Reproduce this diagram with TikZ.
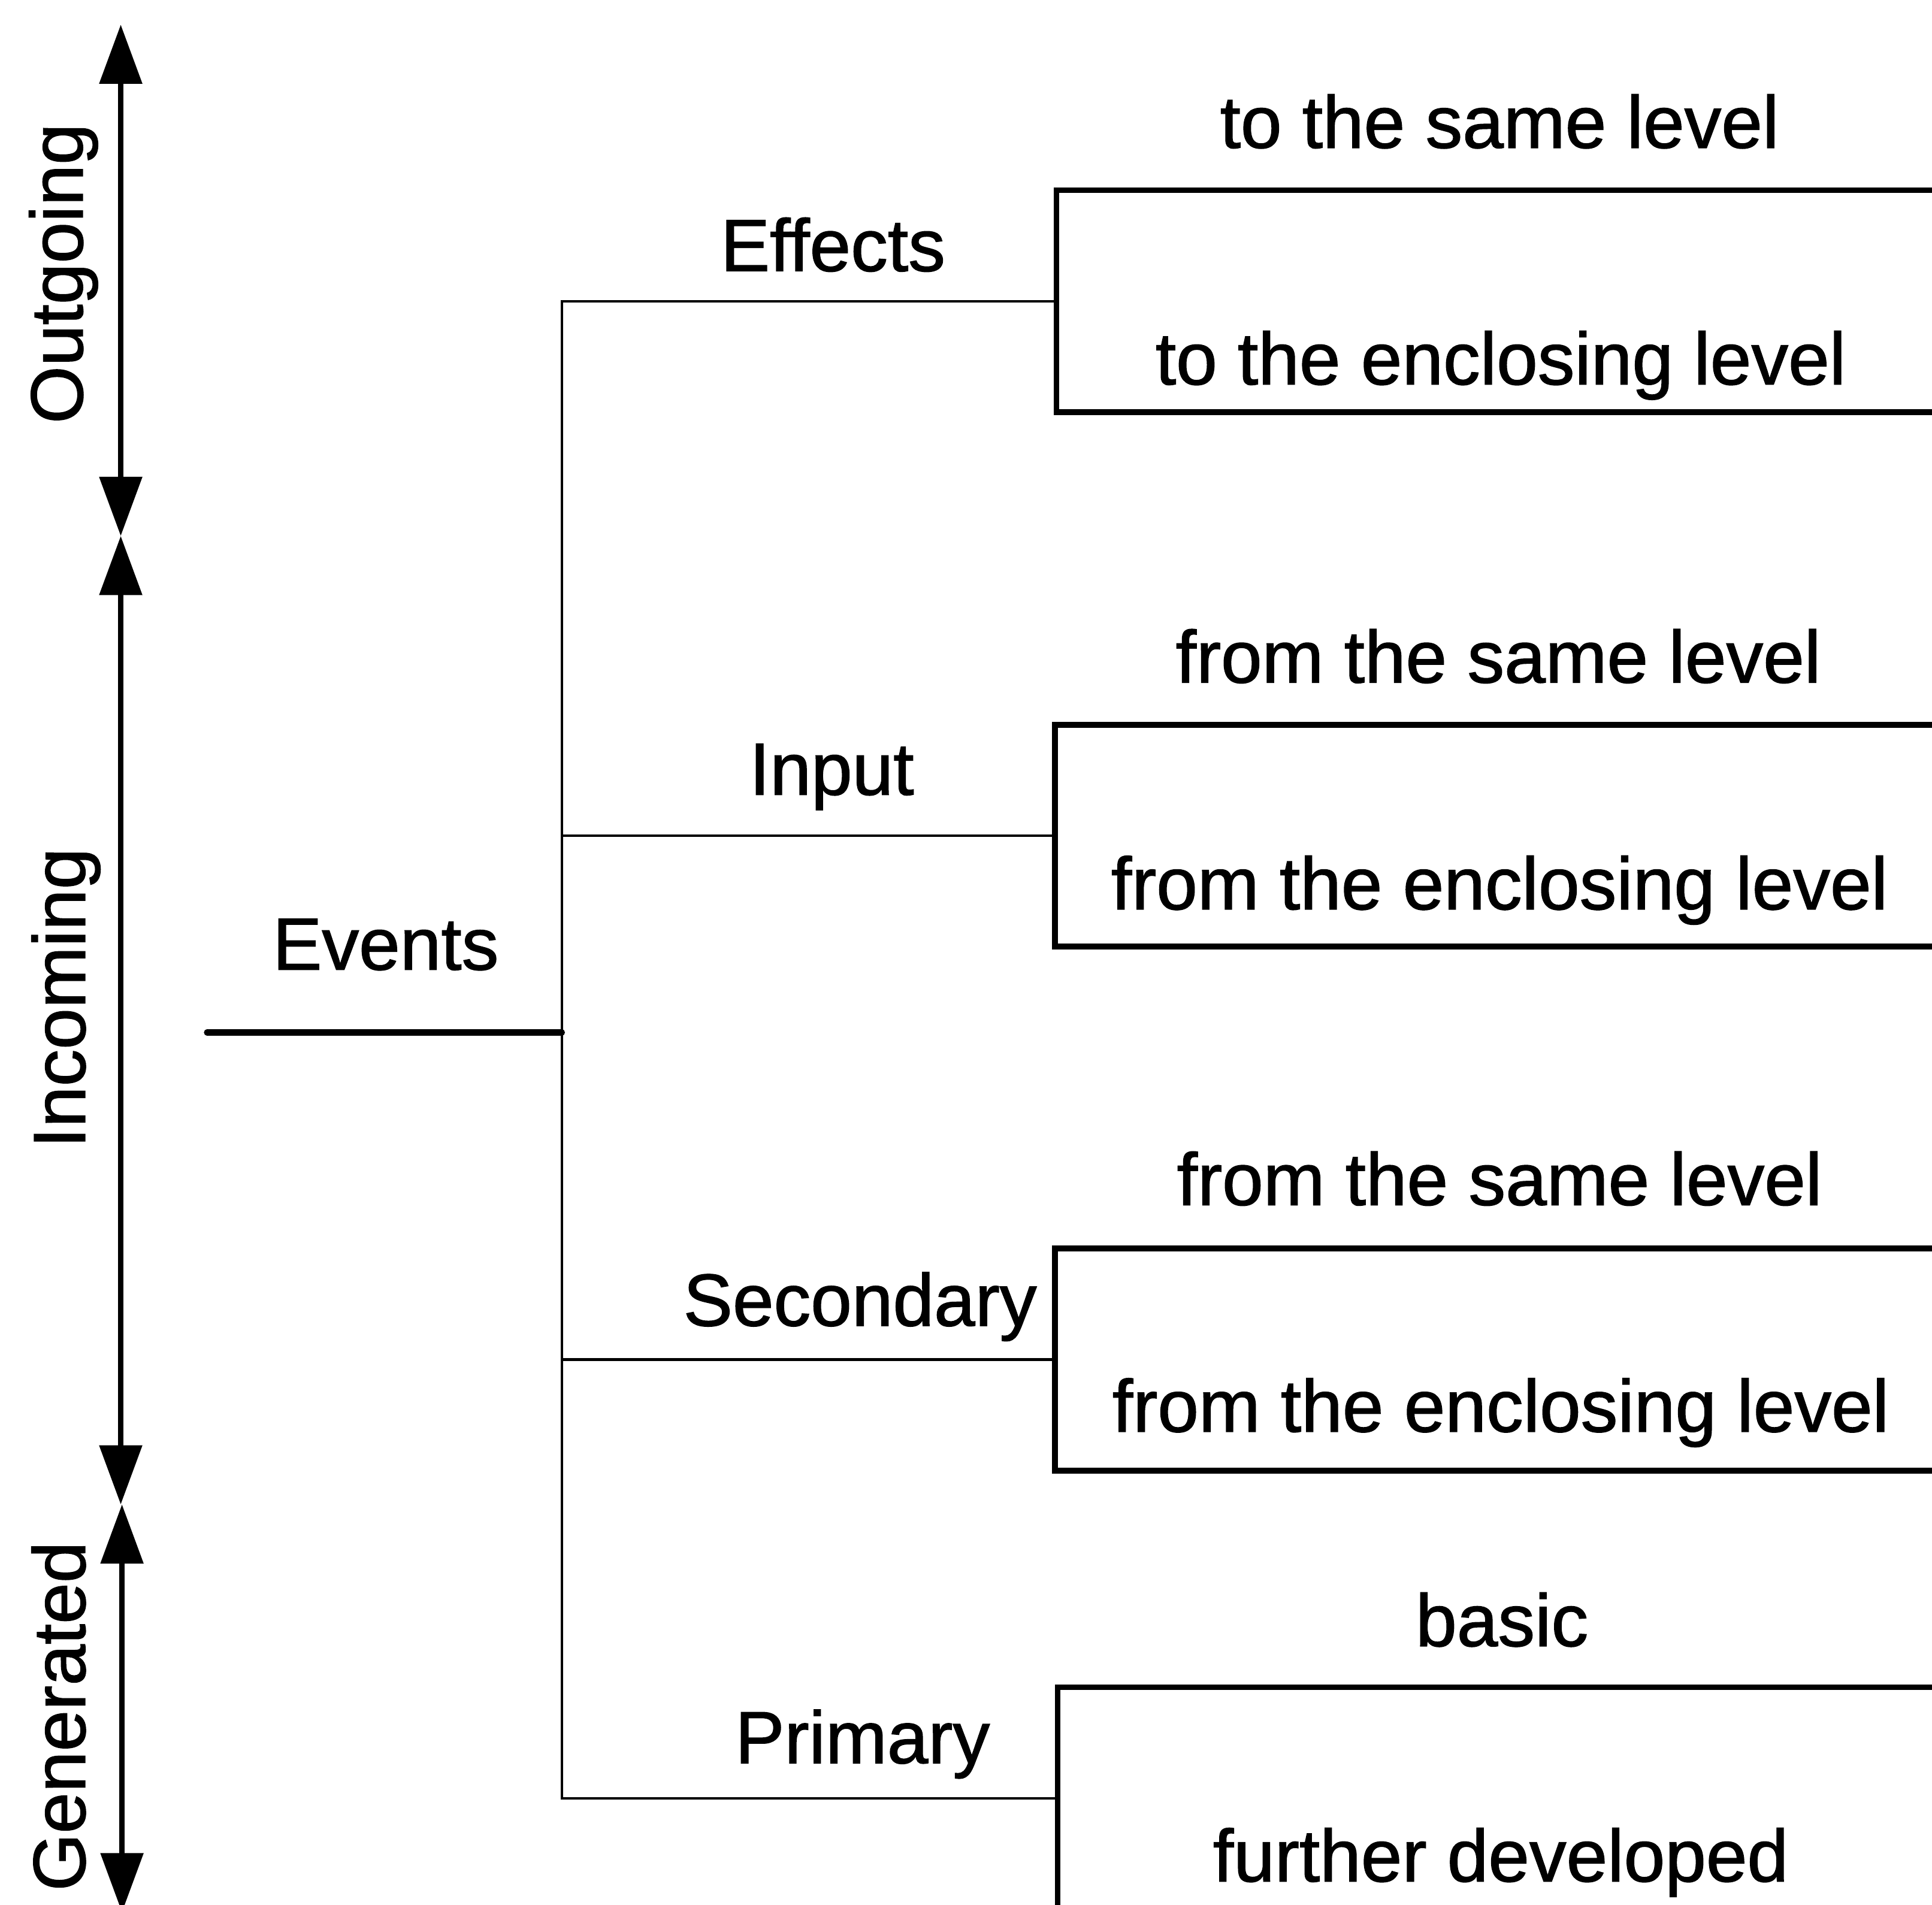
\documentclass[tikz,border=0pt]{standalone}
\usepackage{fontspec}
\setmainfont{Liberation Sans}[FakeBold=0]
\newfontfamily\labelfont{Liberation Sans}[FakeBold=1.2]
\usetikzlibrary{arrows.meta}

\tikzset{
  lbl/.style={font=\labelfont\fontsize{60}{72}\selectfont, inner sep=0pt, anchor=base},
  vlbl/.style={lbl, rotate=90},
  span/.style={line width=4.5pt, {Triangle[length=48pt,width=34pt]}-{Triangle[length=48pt,width=34pt]}},
  branch/.style={line width=2pt},
  rootline/.style={line width=5pt, line cap=round},
  catbox/.style={draw, line width=4.8pt, rectangle, anchor=north west,
    minimum width=760pt, minimum height=180pt, inner sep=0pt},
}

\begin{document}
\begin{tikzpicture}[x=1pt,y=-1pt]
  \useasboundingbox (0,0) rectangle (1568,1546);

  % ranges along the left margin
  \coordinate (o1) at (98,20);
  \coordinate (o2) at (98,435);
  \coordinate (i1) at (98,435);
  \coordinate (i2) at (98,1221);
  \coordinate (g1) at (99,1221);
  \coordinate (g2) at (99,1552);
  \draw[span] (o1) -- (o2);
  \draw[span] (i1) -- (i2);
  \draw[span] (g1) -- (g2);
  \node[vlbl] (outgoing)  at (67,222)  {Outgoing};
  \node[vlbl] (incoming)  at (69,810)  {Incoming};
  \node[vlbl] (generated) at (69,1393) {Generated};

  % category boxes
  \node[catbox] (b1) at (855,152)  {};
  \node[catbox] (b2) at (854,586)  {};
  \node[catbox] (b3) at (854,1011) {};
  \node[catbox] (b4) at (856,1367) {};

  % tree
  \coordinate (start) at (168,838);
  \coordinate (hub)   at (456,838);
  \draw[rootline] (start) -- (hub);
  \draw[branch] (b1.west) -- (b1.west -| hub) -- (b4.west -| hub) -- (b4.west);
  \draw[branch] (b2.west -| hub) -- (b2.west);
  \draw[branch] (b3.west -| hub) -- (b3.west);

  \node[lbl] (events)    at (313,787)  {Events};
  \node[lbl] (effects)   at (676,220)  {Effects};
  \node[lbl] (input)     at (675,645)  {Input};
  \node[lbl] (secondary) at (698,1076) {Secondary};
  \node[lbl] (primary)   at (700,1431) {Primary};

  % box captions
  \node[lbl] (e1) at (1217,120)  {to the same level};
  \node[lbl] (e2) at (1218,312)  {to the enclosing level};
  \node[lbl] (n1) at (1216,554)  {from the same level};
  \node[lbl] (n2) at (1217,738)  {from the enclosing level};
  \node[lbl] (s1) at (1217,978)  {from the same level};
  \node[lbl] (s2) at (1218,1162) {from the enclosing level};
  \node[lbl] (p1) at (1219,1336) {basic};
  \node[lbl] (p2) at (1218,1527) {further developed};
\end{tikzpicture}
\end{document}
